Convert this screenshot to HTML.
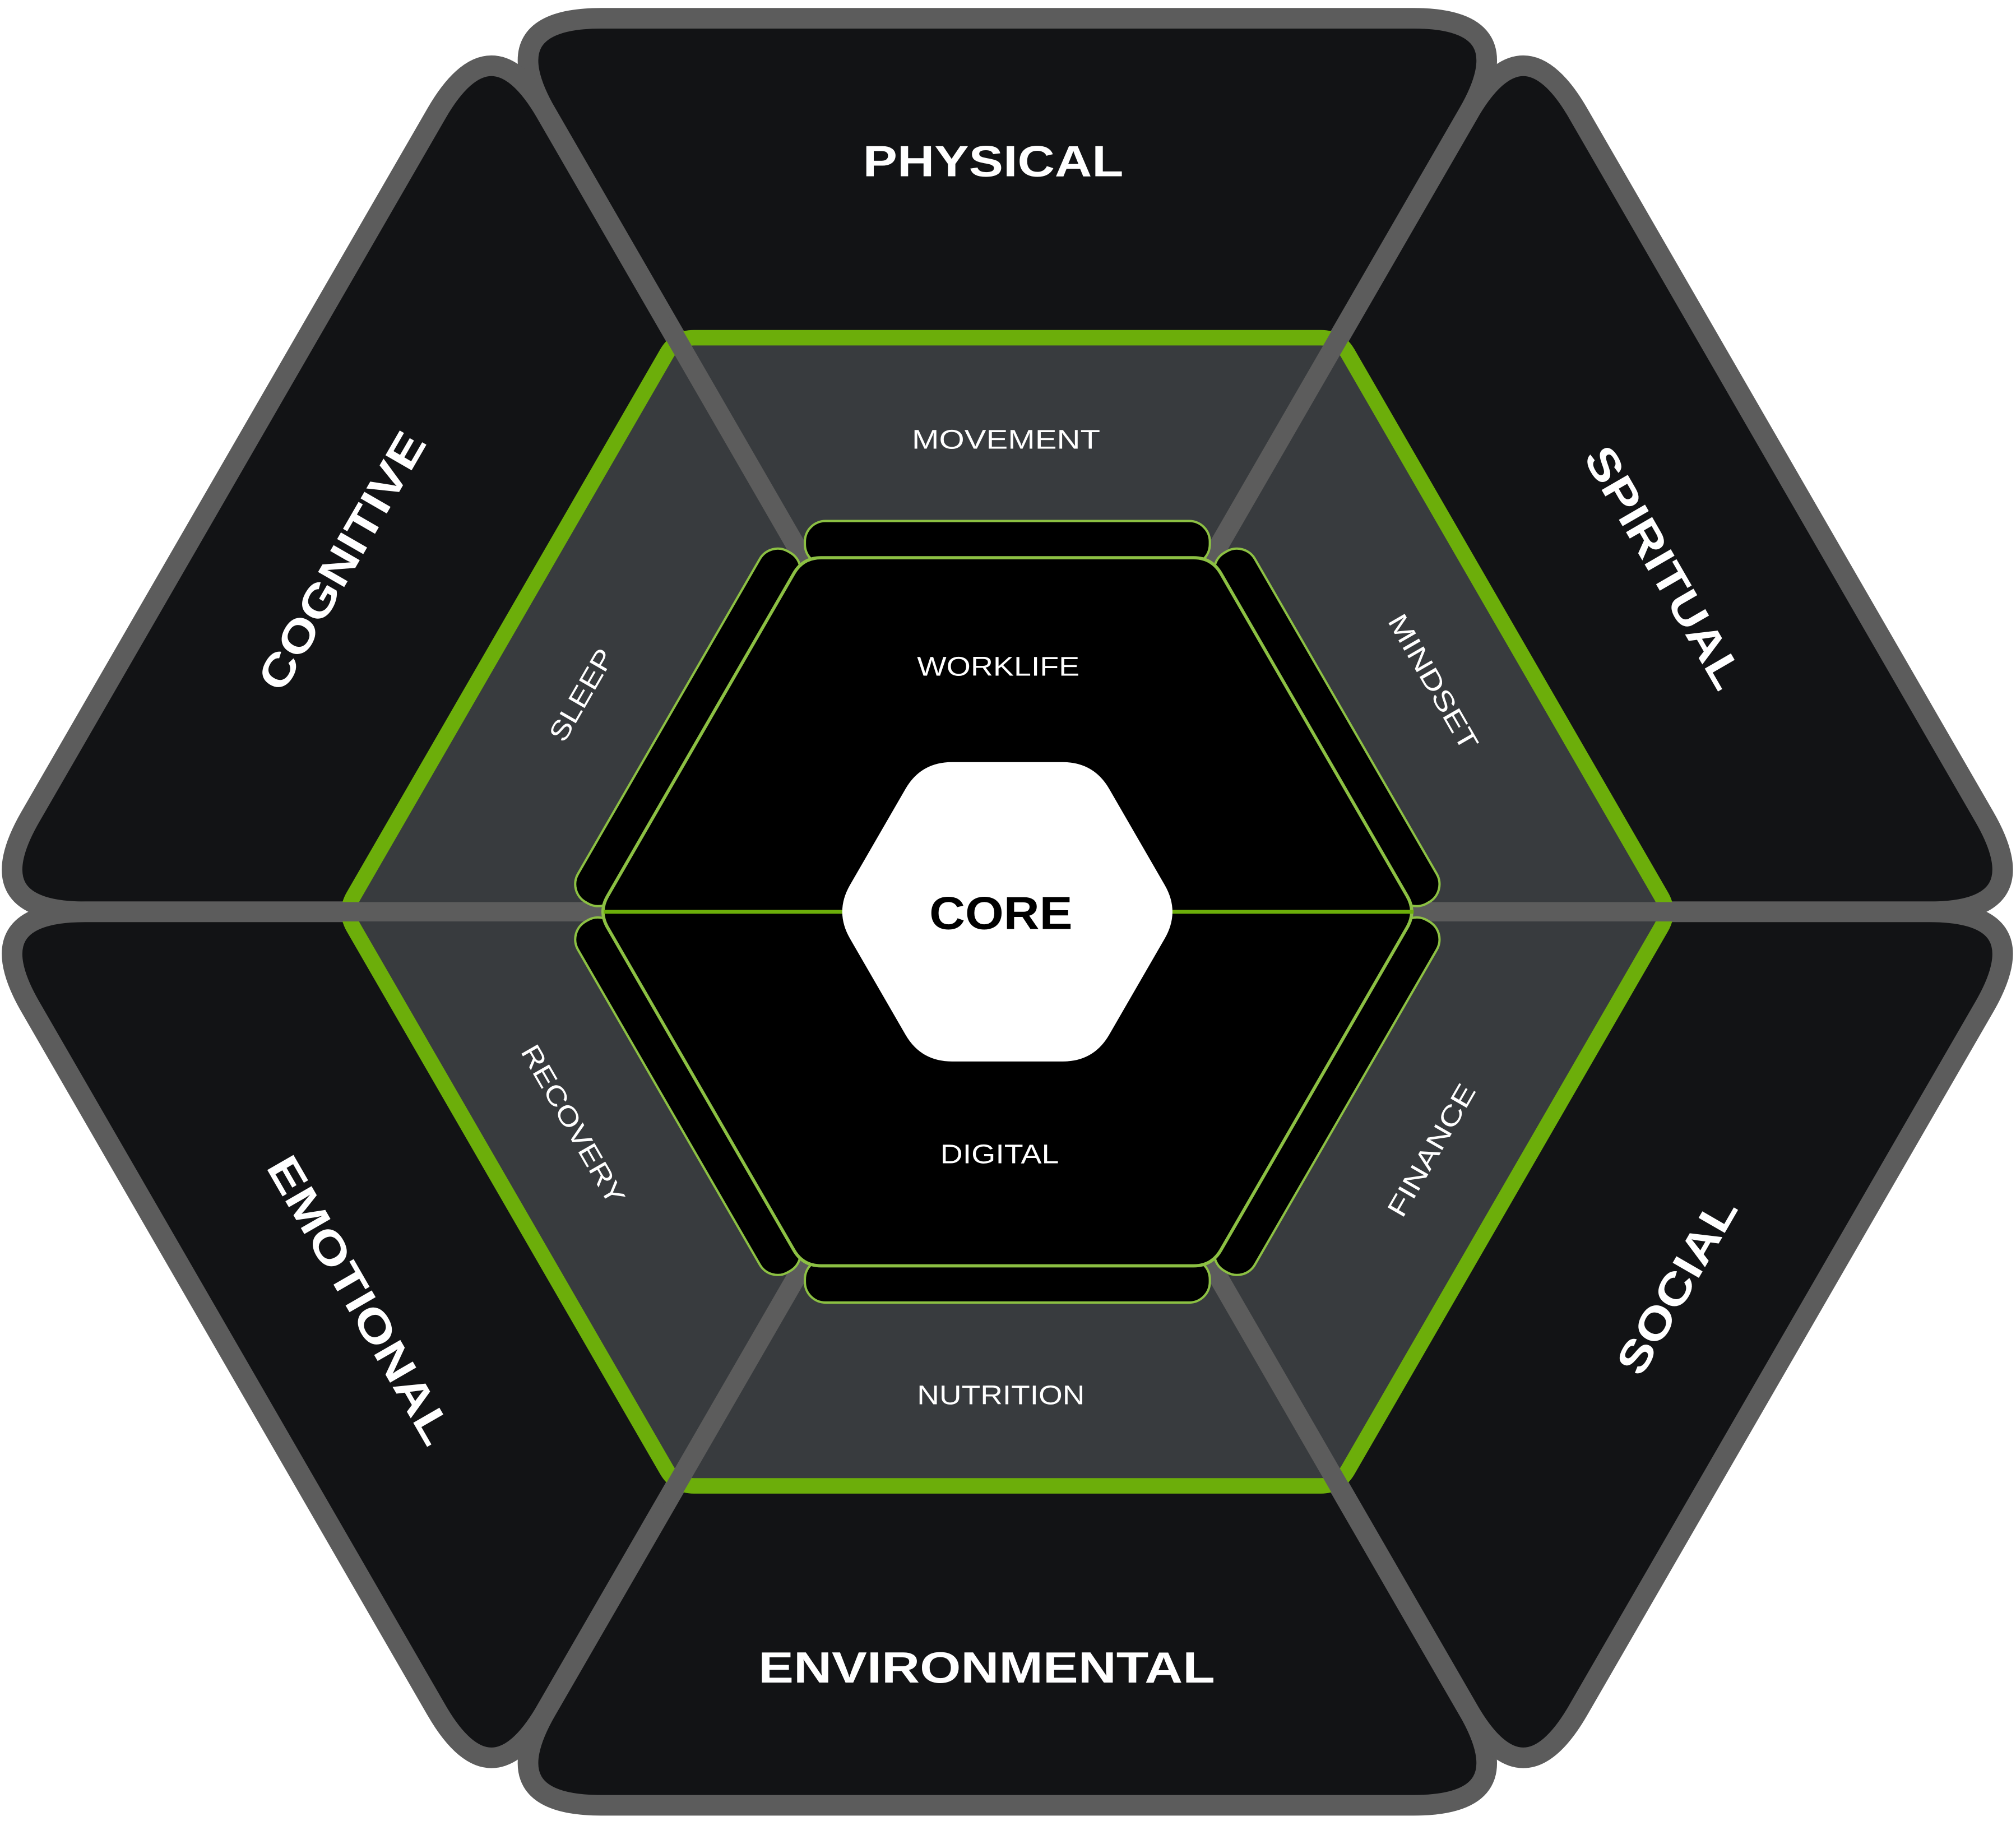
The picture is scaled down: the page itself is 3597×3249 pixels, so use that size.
<!DOCTYPE html>
<html><head><meta charset="utf-8"><style>
html,body{margin:0;padding:0;background:#fff;}
svg{display:block;}
text{font-family:"Liberation Sans",sans-serif;fill:#fff;}
</style></head><body>
<svg id="s" xmlns="http://www.w3.org/2000/svg" width="3597" height="3249" viewBox="0 0 1563 1412" preserveAspectRatio="none">
<g id="wedges"></g>
<path id="mid" fill="#383b3e" stroke="#6cae0a" stroke-width="12"/>
<g id="seps" stroke="#5c5c5c" stroke-width="15"></g>
<g id="bars"></g>
<path id="inner" fill="#000" stroke="#8cc043" stroke-width="2.5"/>
<line x1="468" y1="707" x2="1096" y2="707" stroke="#6cae0a" stroke-width="3"/>
<path id="core" fill="#fff"/>

<text x="770" y="125" font-size="34" font-weight="bold" text-anchor="middle" dominant-baseline="central" textLength="202" lengthAdjust="spacingAndGlyphs">PHYSICAL</text>
<text x="765" y="1293" font-size="34" font-weight="bold" text-anchor="middle" dominant-baseline="central" textLength="354" lengthAdjust="spacingAndGlyphs">ENVIRONMENTAL</text>
<text transform="translate(265,435) rotate(-60)" font-size="34" font-weight="bold" text-anchor="middle" dominant-baseline="central" textLength="225" lengthAdjust="spacingAndGlyphs">COGNITIVE</text>
<text transform="translate(1290,440) rotate(60)" font-size="34" font-weight="bold" text-anchor="middle" dominant-baseline="central" textLength="211" lengthAdjust="spacingAndGlyphs">SPIRITUAL</text>
<text transform="translate(279,1008) rotate(60)" font-size="34" font-weight="bold" text-anchor="middle" dominant-baseline="central" textLength="252" lengthAdjust="spacingAndGlyphs">EMOTIONAL</text>
<text transform="translate(1300,997) rotate(-60)" font-size="34" font-weight="bold" text-anchor="middle" dominant-baseline="central" textLength="152" lengthAdjust="spacingAndGlyphs">SOCIAL</text>

<text x="780" y="341" font-size="21" text-anchor="middle" dominant-baseline="central" textLength="146" lengthAdjust="spacingAndGlyphs">MOVEMENT</text>
<text x="776" y="1082" font-size="21" text-anchor="middle" dominant-baseline="central" textLength="130" lengthAdjust="spacingAndGlyphs">NUTRITION</text>
<text x="774" y="517" font-size="21" text-anchor="middle" dominant-baseline="central" textLength="126" lengthAdjust="spacingAndGlyphs">WORKLIFE</text>
<text x="775" y="895" font-size="21" text-anchor="middle" dominant-baseline="central" textLength="92" lengthAdjust="spacingAndGlyphs">DIGITAL</text>
<text transform="translate(451,539) rotate(-60)" font-size="21" text-anchor="middle" dominant-baseline="central" textLength="79" lengthAdjust="spacingAndGlyphs">SLEEP</text>
<text transform="translate(1111,529) rotate(60)" font-size="21" text-anchor="middle" dominant-baseline="central" textLength="118" lengthAdjust="spacingAndGlyphs">MINDSET</text>
<text transform="translate(444,872) rotate(60)" font-size="21" text-anchor="middle" dominant-baseline="central" textLength="139" lengthAdjust="spacingAndGlyphs">RECOVERY</text>
<text transform="translate(1110,892) rotate(-60)" font-size="21" text-anchor="middle" dominant-baseline="central" textLength="115" lengthAdjust="spacingAndGlyphs">FINANCE</text>
<text x="776" y="708" font-size="36" font-weight="bold" text-anchor="middle" dominant-baseline="central" textLength="111" lengthAdjust="spacingAndGlyphs" style="fill:#000">CORE</text>
</svg>
<script>
var NS="http://www.w3.org/2000/svg",cx=781,cy=707;
function V(R,a){a=a*Math.PI/180;return [cx+R*Math.cos(a),cy-R*Math.sin(a)];}
function rp(pts,ds){var n=pts.length,s="";
 function u(a,b,d){var dx=b[0]-a[0],dy=b[1]-a[1],l=Math.hypot(dx,dy);d=Math.min(d,l/2);return [a[0]+dx/l*d,a[1]+dy/l*d];}
 for(var i=0;i<n;i++){var P=pts[i],A=pts[(i-1+n)%n],B=pts[(i+1)%n],d=ds[i];
  var p1=u(P,A,d),p2=u(P,B,d);
  s+=(i==0?"M":"L")+p1[0].toFixed(2)+","+p1[1].toFixed(2)+"Q"+P[0].toFixed(2)+","+P[1].toFixed(2)+" "+p2[0].toFixed(2)+","+p2[1].toFixed(2);}
 return s+"Z";}
function hex(R,d){var p=[],ds=[];for(var k=0;k<6;k++){p.push(V(R,60*k));ds.push(d);}return rp(p,ds);}
var wg=document.getElementById("wedges");
for(var k=0;k<6;k++){var p=document.createElementNS(NS,"path");
 p.setAttribute("d",rp([[cx,cy],V(800,60*k),V(800,60*k+60)],[10,85,85]));
 p.setAttribute("fill","#121315");p.setAttribute("stroke","#5c5c5c");p.setAttribute("stroke-width","16");p.setAttribute("stroke-linejoin","round");
 wg.appendChild(p);}
document.getElementById("mid").setAttribute("d",hex(514,14));
var sg=document.getElementById("seps");
for(var k=0;k<6;k++){var a=V(300,60*k),b=V(530,60*k),l=document.createElementNS(NS,"line");
 l.setAttribute("x1",a[0]);l.setAttribute("y1",a[1]);l.setAttribute("x2",b[0]);l.setAttribute("y2",b[1]);sg.appendChild(l);}
var bg=document.getElementById("bars");
for(var k=0;k<6;k++){var th=30+60*k,r=document.createElementNS(NS,"rect");
 r.setAttribute("x",-157);r.setAttribute("y",-17);r.setAttribute("width",314);r.setAttribute("height",34);r.setAttribute("rx",16);
 r.setAttribute("fill","#000");r.setAttribute("stroke","#8cc043");r.setAttribute("stroke-width","1.8");
 r.setAttribute("transform","translate("+cx+","+cy+") rotate("+(90-th)+") translate(0,-286)");bg.appendChild(r);}
document.getElementById("inner").setAttribute("d",hex(317,14));
document.getElementById("core").setAttribute("d",hex(134,24));
</script>
</body></html>
